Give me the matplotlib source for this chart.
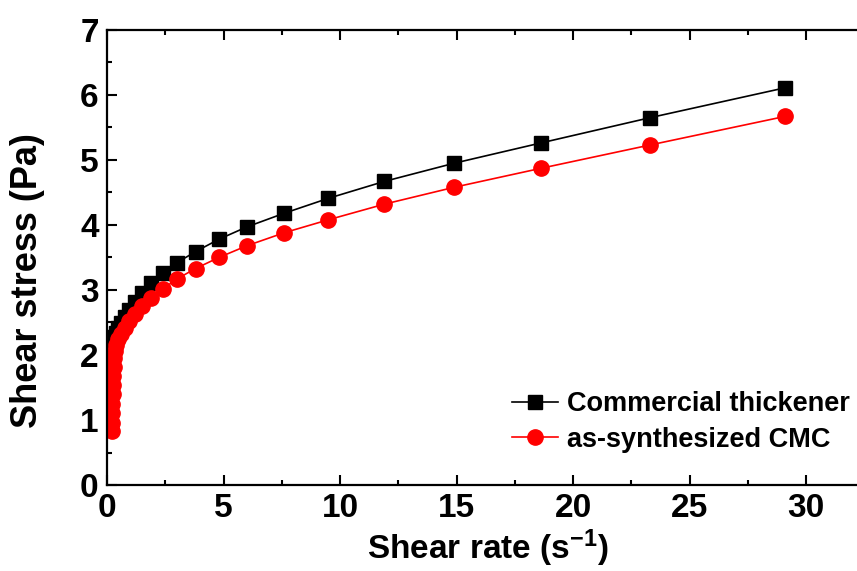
import matplotlib
matplotlib.use("Agg")
import matplotlib.pyplot as plt
from matplotlib.ticker import MultipleLocator

plt.rcParams['font.family'] = ['Liberation Sans', 'DejaVu Sans']
plt.rcParams['font.weight'] = 'bold'
plt.rcParams['mathtext.fontset'] = 'custom'
plt.rcParams['mathtext.rm'] = 'Liberation Sans:bold'
plt.rcParams['mathtext.bf'] = 'Liberation Sans:bold'
plt.rcParams['mathtext.default'] = 'bf'

# Commercial thickener (black squares)
rate_com = [29.1, 23.3, 18.6, 14.9, 11.9, 9.5, 7.6, 6.0, 4.8, 3.8, 3.0, 2.4, 1.9,
            1.5, 1.2, 0.95, 0.76, 0.60, 0.48, 0.38, 0.30, 0.24, 0.19, 0.15, 0.12]
stress_com = [6.11, 5.65, 5.26, 4.95, 4.67, 4.41, 4.18, 3.97, 3.78, 3.59, 3.42, 3.26, 3.10,
              2.95, 2.81, 2.69, 2.58, 2.49, 2.41, 2.34, 2.27, 2.20, 2.13, 2.07, 2.02]

# as-synthesized CMC (red circles)
rate_cmc = [29.1, 23.3, 18.6, 14.9, 11.9, 9.5, 7.6, 6.0, 4.8, 3.8, 3.0, 2.4, 1.9,
            1.5, 1.2, 0.95, 0.76, 0.60, 0.48, 0.40, 0.34, 0.30, 0.28, 0.26, 0.25,
            0.24, 0.23, 0.22, 0.21, 0.20]
stress_cmc = [5.67, 5.23, 4.87, 4.58, 4.32, 4.08, 3.88, 3.68, 3.50, 3.33, 3.17, 3.02, 2.88,
              2.75, 2.63, 2.52, 2.42, 2.33, 2.24, 2.15, 2.06, 1.95, 1.82, 1.68, 1.54,
              1.40, 1.25, 1.10, 0.96, 0.83]

fig = plt.figure(figsize=(8.57, 5.71), dpi=100)
ax = fig.add_axes([0.1249, 0.1506, 0.93, 0.797])

ax.plot(rate_com, stress_com, "k-", lw=1.2, marker="s", ms=10.5,
        label="Commercial thickener")
ax.plot(rate_cmc, stress_cmc, "r-", lw=1.2, marker="o", ms=11,
        label="as-synthesized CMC")

ax.set_xlim(0, 34.2)
ax.set_ylim(0, 7)
ax.xaxis.set_major_locator(MultipleLocator(5))
ax.xaxis.set_minor_locator(MultipleLocator(2.5))
ax.yaxis.set_major_locator(MultipleLocator(1))
ax.yaxis.set_minor_locator(MultipleLocator(0.5))
ax.tick_params(which="both", direction="in", top=True, right=True, width=1.5,
               labelsize=24, pad=6)
ax.tick_params(which="major", length=7)
ax.tick_params(which="minor", length=3.5)
for s in ax.spines.values():
    s.set_linewidth(1.6)

ax.set_xlabel(r"Shear rate (s$^{-1}$)", fontsize=24, fontweight="bold")
ax.set_ylabel("Shear stress (Pa)", fontsize=26, fontweight="bold")
ax.xaxis.set_label_coords((486 - 107) / 793.0, -0.094)
ax.yaxis.set_label_coords(-0.078, 0.45)

ax.legend(loc="upper left", bbox_to_anchor=(0.5974, 0.315),
          bbox_transform=fig.transFigure, frameon=False, fontsize=19.5,
          handlelength=1.7, handletextpad=0.35, labelspacing=0.35,
          borderpad=0, borderaxespad=0)

fig.savefig("out.png", dpi=100)
